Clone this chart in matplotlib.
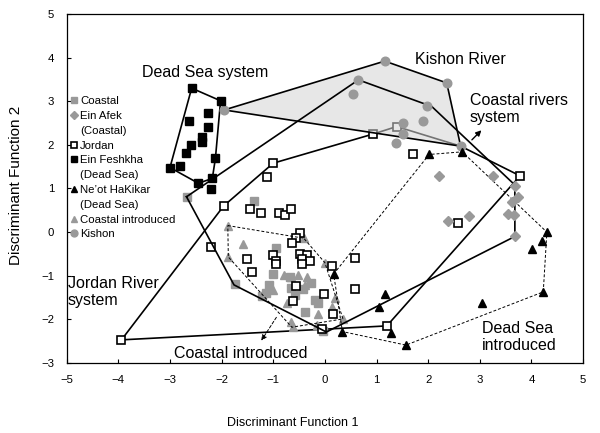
import matplotlib
matplotlib.use('Agg')
import matplotlib.pyplot as plt
from matplotlib.lines import Line2D

plt.rcParams['font.family'] = ['Liberation Sans', 'DejaVu Sans']

# ---------------- data (discriminant scores) ----------------
coastal_x = [-2.68, -1.38, -0.94, -1.00, -1.09, -1.14, -1.21, -1.74, -0.68, -0.65, -0.58, -0.39, -0.19, -0.13, -0.03, -0.43, -0.26]
coastal_y = [0.81, 0.72, -0.37, -0.96, -1.21, -1.40, -1.46, -1.20, -1.03, -1.29, -1.44, -1.82, -1.56, -1.63, -2.27, -1.30, -1.17]

afek_x = [2.22, 3.25, 2.39, 2.80, 3.68, 3.75, 3.62, 3.55, 3.66, 3.68]
afek_y = [1.29, 1.29, 0.26, 0.37, 1.06, 0.80, 0.69, 0.41, 0.40, -0.10]

jordan_x = [-3.94, -1.96, -1.45, -1.23, -0.89, -0.77, -0.65, -1.00, -1.12, -2.21, -0.48, -0.55, -0.63,
            -1.50, -1.01, -0.95, -0.95, -1.42, -0.48, -0.35, -0.45, -0.29, -0.45, 0.13, 0.58, -0.55,
            0.58, -0.02, -0.61, 0.15, -0.06, 1.20, 2.58, 1.71, 3.78, 0.94, 1.39]
jordan_y = [-2.47, 0.60, 0.54, 0.44, 0.44, 0.40, 0.54, 1.58, 1.27, -0.33, -0.03, -0.14, -0.24,
            -0.62, -0.52, -0.66, -0.74, -0.91, -0.51, -0.52, -0.62, -0.66, -0.74, -0.77, -0.59, -1.23,
            -1.30, -1.43, -1.58, -1.88, -2.23, -2.15, 0.22, 1.79, 1.29, 2.25, 2.42]

feshkha_x = [-2.58, -2.02, -2.27, -2.63, -2.27, -2.38, -2.38, -2.60, -2.69, -2.12, -2.80, -3.00, -2.18, -2.45, -2.21]
feshkha_y = [3.30, 3.01, 2.74, 2.54, 2.40, 2.19, 2.07, 2.00, 1.81, 1.69, 1.52, 1.48, 1.23, 1.12, 0.98]

neot_x = [2.02, 2.66, 4.30, 4.20, 4.01, 4.23, 3.04, 1.57, 1.29, 1.16, 1.05, 0.34, 0.17]
neot_y = [1.78, 1.84, 0.00, -0.21, -0.39, -1.37, -1.63, -2.59, -2.32, -1.42, -1.71, -2.28, -0.96]

cintro_x = [-1.88, -1.58, -1.87, -0.41, -0.79, -0.65, -0.52, -0.35, -1.01, -0.74, -0.39, 0.00, -0.65, -0.13, 0.13, 0.19, 0.35, -0.16, -0.61]
cintro_y = [0.15, -0.27, -0.57, -0.14, -0.99, -1.03, -0.99, -1.03, -1.33, -1.63, -1.21, -0.70, -2.06, -1.88, -1.71, -1.52, -1.99, -2.13, -2.18]

kishon_x = [-1.95, 1.16, 2.36, 0.65, 0.55, 1.97, 1.91, 1.51, 1.52, 1.38, 2.63]
kishon_y = [2.80, 3.92, 3.42, 3.49, 3.17, 2.89, 2.55, 2.49, 2.26, 2.05, 1.97]

# polygon outlines (system envelopes)
hull_deadsea_x = [-2.58, -2.02, -2.12, -2.18, -2.45, -3.00]
hull_deadsea_y = [3.30, 3.01, 1.69, 1.23, 1.12, 1.48]

hull_kishon_x = [-1.95, 1.16, 2.36, 2.63]
hull_kishon_y = [2.80, 3.92, 3.42, 1.97]

hull_coastal_x = [-2.68, 0.65, 2.07, 3.68, 3.68, 0.03, -1.76]
hull_coastal_y = [0.81, 3.49, 2.88, 1.08, -0.10, -2.29, -1.21]

hull_jordan_x = [-3.94, -1.96, -1.00, 0.94, 1.39, 2.63, 3.78, 1.20]
hull_jordan_y = [-2.47, 0.60, 1.58, 2.25, 2.42, 1.97, 1.29, -2.15]

hull_cintro_x = [-1.88, -0.41, 0.00, 0.35, -0.64, -1.87]
hull_cintro_y = [0.15, -0.14, -0.70, -1.99, -2.18, -0.57]

hull_dsintro_x = [0.17, 2.02, 2.66, 4.30, 4.23, 1.57, 0.34]
hull_dsintro_y = [-0.96, 1.78, 1.84, 0.00, -1.37, -2.59, -2.28]

xticks = [-5, -4, -3, -2, -1, 0, 1, 2, 3, 4, 5]
yticks = [-3, -2, -1, 0, 1, 2, 3, 4, 5]

GRAY = '#999999'


def closed(xs, ys):
    return list(xs) + [xs[0]], list(ys) + [ys[0]]


fig = plt.figure(figsize=(6, 4.33), dpi=100)
ax = fig.add_axes([0.1112, 0.1617, 0.8605, 0.806])
ax.set_xlim(-5, 5)
ax.set_ylim(-3, 5)

# Jordan envelope (beneath Kishon fill)
ax.plot(*closed(hull_jordan_x, hull_jordan_y), color='black', lw=1.2, zorder=2)

# coastal points beneath Jordan squares
h_coastal, = ax.plot(coastal_x, coastal_y, 's', color=GRAY, ms=5.6, mec=GRAY, zorder=2.5)
h_cintro, = ax.plot(cintro_x, cintro_y, '^', color=GRAY, ms=5.8, mec=GRAY, zorder=2.5)

h_jordan, = ax.plot(jordan_x, jordan_y, 's', mfc='white', mec='black', mew=1.2, ms=5.6, zorder=3)

# Kishon shaded envelope
kx, ky = closed(hull_kishon_x, hull_kishon_y)
ax.fill(kx, ky, facecolor='#d4d4d4', alpha=0.55, edgecolor='none', zorder=4)
ax.plot(kx, ky, color='black', lw=1.2, zorder=5)

ax.plot(*closed(hull_coastal_x, hull_coastal_y), color='black', lw=1.2, zorder=5)
ax.plot(*closed(hull_deadsea_x, hull_deadsea_y), color='black', lw=1.2, zorder=5)
ax.plot(*closed(hull_cintro_x, hull_cintro_y), color='black', lw=0.7, ls=(0, (3, 2)), zorder=5)
ax.plot(*closed(hull_dsintro_x, hull_dsintro_y), color='black', lw=0.7, ls=(0, (3, 2)), zorder=5)

h_afek, = ax.plot(afek_x, afek_y, 'D', color=GRAY, ms=4.6, mec=GRAY, zorder=6)
h_kishon, = ax.plot(kishon_x, kishon_y, 'o', color=GRAY, ms=6.2, mec=GRAY, zorder=6)
h_fesh, = ax.plot(feshkha_x, feshkha_y, 's', color='black', ms=5.6, zorder=6)
h_neot, = ax.plot(neot_x, neot_y, '^', color='black', ms=5.8, zorder=6)

# annotations
tfs = 11.5
ax.text(-2.31, 3.66, 'Dead Sea system', fontsize=tfs, ha='center', va='center')
ax.text(2.63, 3.95, 'Kishon River', fontsize=tfs, ha='center', va='center')
ax.text(2.81, 2.82, 'Coastal rivers\nsystem', fontsize=tfs, ha='left', va='center', linespacing=1.12)
ax.text(-4.98, -1.37, 'Jordan River\nsystem', fontsize=tfs, ha='left', va='center', linespacing=1.15)
ax.text(-1.63, -2.78, 'Coastal introduced', fontsize=tfs, ha='center', va='center')
ax.text(3.04, -2.40, 'Dead Sea\nintroduced', fontsize=tfs, ha='left', va='center', linespacing=1.15)

ax.annotate('', xy=(3.07, 2.38), xytext=(2.81, 2.07),
            arrowprops=dict(arrowstyle='-|>', color='black', lw=1.0, mutation_scale=8))
ax.annotate('', xy=(-1.26, -2.54), xytext=(-0.91, -1.90),
            arrowprops=dict(arrowstyle='-|>', color='black', lw=0.7, ls=(0, (3, 2)), mutation_scale=8))

# legend
blank = Line2D([], [], linestyle='none', marker='none')
handles = [h_coastal, h_afek, blank, h_jordan, h_fesh, blank, h_neot, blank, h_cintro, h_kishon]
labels = ['Coastal', 'Ein Afek', '(Coastal)', 'Jordan', 'Ein Feshkha', '(Dead Sea)',
          'Ne\u2019ot HaKikar', '(Dead Sea)', 'Coastal introduced', 'Kishon']
ax.legend(handles, labels, loc='upper left', bbox_to_anchor=(0.005, 0.764), frameon=False,
          fontsize=8.2, handlelength=0.8, handletextpad=0.15, labelspacing=0.42,
          borderpad=0, borderaxespad=0, markerscale=0.8)

ax.set_xticks(xticks)
ax.set_yticks(yticks)
ax.tick_params(direction='in', length=3, width=0.8, labelsize=8.2)
ax.tick_params(axis='x', pad=9)
ax.tick_params(axis='y', pad=9)
for s in ax.spines.values():
    s.set_linewidth(0.9)

ax.set_xlabel('Discriminant Function 1', fontsize=9)
ax.xaxis.set_label_coords(0.438, -0.155)
ax.set_ylabel('Discriminant Function 2', fontsize=11)
ax.yaxis.set_label_coords(-0.085, 0.51)

fig.savefig('out.png', dpi=100)
